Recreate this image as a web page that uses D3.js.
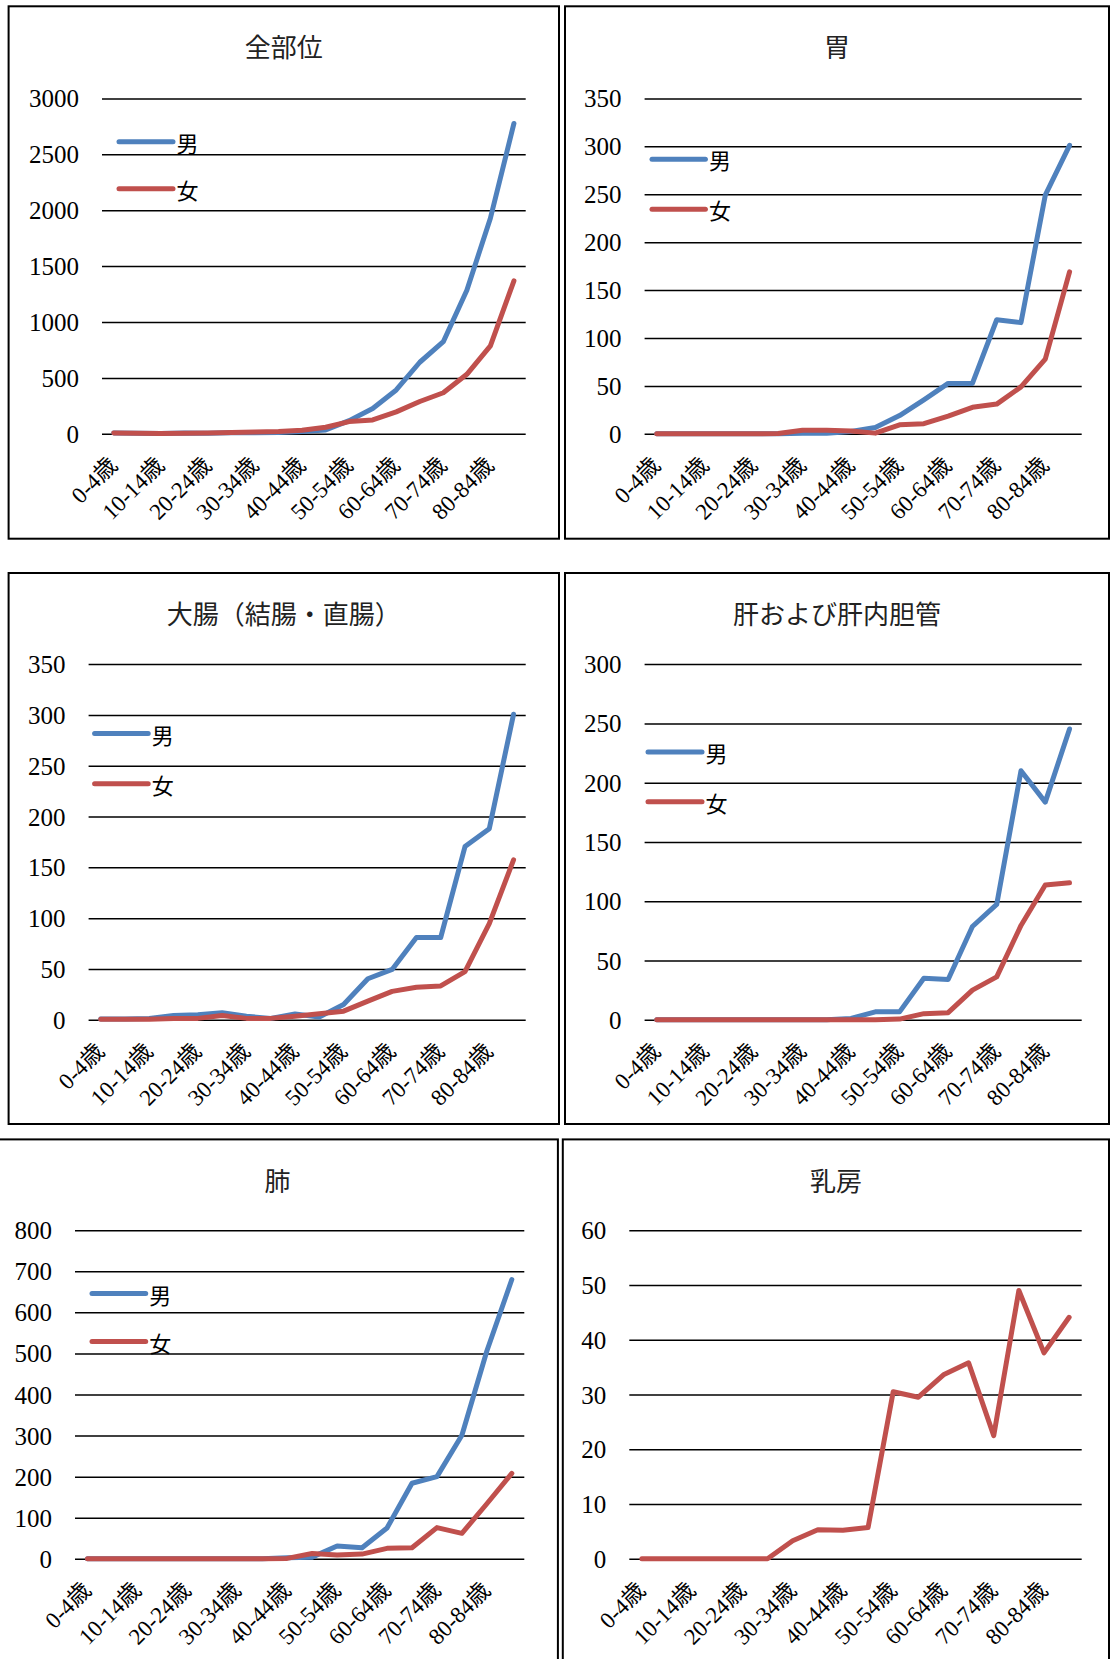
<!DOCTYPE html>
<html><head><meta charset="utf-8">
<script src="https://cdn.jsdelivr.net/npm/d3@7"></script>
<style>
html,body{margin:0;padding:0;background:#fff;}
svg{display:block;}
.num{font-family:"Liberation Serif","DejaVu Serif","Noto Sans CJK JP",serif;}
.cjk{font-family:"Noto Sans CJK JP","Liberation Serif",sans-serif;}
</style>
</head><body>
<svg id="chart" width="1110" height="1659"></svg>
<script>
// ---------- data ----------
const categories = ["0-4歳","5-9歳","10-14歳","15-19歳","20-24歳","25-29歳","30-34歳","35-39歳","40-44歳",
  "45-49歳","50-54歳","55-59歳","60-64歳","65-69歳","70-74歳","75-79歳","80-84歳","85歳以上"];
const seriesNames = ["男","女"];

const titles = ["全部位","胃","大腸（結腸・直腸）","肝および肝内胆管","肺","乳房"];

const allMale   = [8,5,3,8,6,10,10,12,20,35,118,227,392,640,824,1284,1928,2776];
const allFemale = [8,5,3,6,8,12,15,20,31,59,109,124,196,289,367,532,787,1368];

const stomachMale   = [0,0,0,0,0,0,0.5,0.5,2.5,6.5,19,35.5,52.6,52.6,119,116,249,301];
const stomachFemale = [0,0,0,0,0,0.3,3.6,3.6,3,0.7,9.4,10.5,18.5,27.6,31,49,78,169];

const colonMale   = [0.7,0.7,1.4,4.3,5,7,3.5,1.4,5.7,2.8,15,40.4,49.6,81,81,170.5,188,300.7];
const colonFemale = [0.5,0.5,0.5,1.4,1.4,4.3,1.4,1.4,3.5,6,8.5,18.4,28,32,33.3,47.5,94.7,157.4];

const liverMale   = [0,0,0,0,0,0,0,0,1.2,6.7,6.7,35,34,78.7,97.3,210,183.6,245.3];
const liverFemale = [0,0,0,0,0,0,0,0,0,0,0.6,5.2,6,25,36.2,79.6,113.7,115.5];

const lungMale   = [0,0,0,0,0,0,0,0,2.5,4,31,27,75,184,200,300.6,506,680];
const lungFemale = [0,0,0,0,0,0,0,0,1,13,9,11.5,25.5,27,76,62,134,208];

const breastFemale = [0,0,0,0,0,0,3.3,5.3,5.2,5.7,30.5,29.5,33.6,35.8,22.5,49,37.6,44.1];

const yMax  = [3000,350,350,300,800,60];
const yStep = [500,50,50,50,100,10];

const panelSeries = [
  [allMale, allFemale],
  [stomachMale, stomachFemale],
  [colonMale, colonFemale],
  [liverMale, liverFemale],
  [lungMale, lungFemale],
  [null, breastFemale]
];

// ---------- layout (positions / styles) ----------
const layout = [
  {box:[8.6,6.3,559,538.7],   plot:[102,525.7,98.4,433.8],    titleY:45.2, legend:[119,173,141.8,188.7]},
  {box:[565,6.3,1109,538.7],  plot:[644.6,1081.7,98.4,433.8], titleY:45.2, legend:[652,705.4,159.2,209.2]},
  {box:[8.6,573,559,1124],    plot:[88.6,525.7,664.1,1019.8], titleY:612,  legend:[94.6,148.2,733.6,783.7]},
  {box:[565,573,1109,1124],   plot:[644.6,1081.7,664.1,1019.8],titleY:612, legend:[648,702,752,801.8]},
  {box:[-3,1139.4,557.9,1700],plot:[75,524.3,1230.2,1558.8],  titleY:1179, legend:[92,145.7,1293.6,1341.5]},
  {box:[562.8,1139.4,1109,1700],plot:[629.3,1081.7,1230.2,1558.8],titleY:1179, legend:null}
];
const colors = ["#4F81BD","#C0504D"];
const lineW = 5;

const svg = d3.select("#chart");
svg.append("rect").attr("width",1110).attr("height",1659).attr("fill","#fff");

layout.forEach((L, p) => {
  const g = svg.append("g");
  const [bx0,by0,bx1,by1] = L.box;
  g.append("rect").attr("x",bx0).attr("y",by0).attr("width",bx1-bx0).attr("height",by1-by0)
    .attr("fill","none").attr("stroke","#000").attr("stroke-width",2);

  const [px0,px1,pyTop,pyZero] = L.plot;
  const x = d3.scalePoint().domain(categories).range([px0,px1]).padding(0.5);
  const y = d3.scaleLinear().domain([0,yMax[p]]).range([pyZero,pyTop]);
  const ticks = d3.range(0, yMax[p]+yStep[p]/2, yStep[p]);

  // title
  g.append("text").attr("class","cjk").attr("x",(bx0+bx1)/2).attr("y",L.titleY)
    .attr("text-anchor","middle").attr("dominant-baseline","central")
    .style("font-size","26px").attr("fill","#222")
    .text(titles[p]);

  // y axis with gridlines
  const ya = g.append("g").attr("transform",`translate(${px0},0)`)
    .call(d3.axisLeft(y).tickValues(ticks).tickSize(-(px1-px0)).tickPadding(23).tickFormat(d3.format("d")));
  ya.attr("font-family",null).attr("font-size",null);
  ya.select(".domain").remove();
  ya.selectAll(".tick line").attr("stroke","#000").attr("stroke-width",1.5);
  ya.selectAll(".tick text").attr("class","num").style("font-size","25px").attr("fill","#000")
    .attr("dy","0.34em");

  // x axis labels
  const xa = g.append("g").attr("transform",`translate(0,${pyZero})`)
    .call(d3.axisBottom(x).tickSize(0).tickFormat((d,i)=> i%2===0 ? d : ""));
  xa.attr("font-family",null).attr("font-size",null);
  xa.select(".domain").remove();
  xa.selectAll(".tick text").attr("class","num")
    .style("font-size","23px").attr("fill","#000")
    .attr("text-anchor","end").attr("x",0).attr("y",0).attr("dy",0)
    .attr("transform","translate(4.5,33) rotate(-45)");

  // lines
  const line = d3.line().x((d,i)=>x(categories[i])).y(d=>y(d));
  panelSeries[p].forEach((vals, s) => {
    if (!vals) return;
    g.append("path").datum(vals).attr("d",line).attr("fill","none")
      .attr("stroke",colors[s]).attr("stroke-width",lineW)
      .attr("stroke-linejoin","round").attr("stroke-linecap","round");
  });

  // legend
  if (L.legend) {
    const [lx0,lx1,ly0,ly1] = L.legend;
    [ly0,ly1].forEach((ly, s) => {
      g.append("line").attr("x1",lx0).attr("x2",lx1).attr("y1",ly).attr("y2",ly)
        .attr("stroke",colors[s]).attr("stroke-width",lineW).attr("stroke-linecap","round");
      g.append("text").attr("class","cjk").attr("x",lx1+3.5).attr("y",ly).attr("dominant-baseline","central")
        .style("font-size","22px").attr("fill","#000").text(seriesNames[s]);
    });
  }
});
</script>
</body></html>
